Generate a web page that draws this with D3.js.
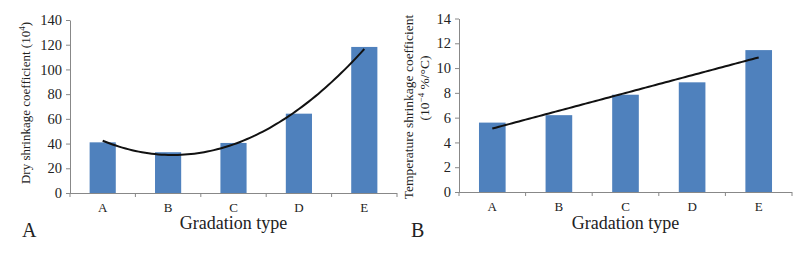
<!DOCTYPE html>
<html>
<head>
<meta charset="utf-8">
<script src="https://cdn.jsdelivr.net/npm/d3@7"></script>
<style>
  body { margin: 0; background: #fff; }
  svg text { font-family: "Liberation Serif", "Times New Roman", serif !important; fill: #222; }
</style>
</head>
<body>
<svg id="chart" width="807" height="257"></svg>
<script>
var categories = ["A", "B", "C", "D", "E"];
var dryValues = [41, 33, 40.5, 64.2, 118.2];
var tempValues = [5.6, 6.2, 7.85, 8.85, 11.45];
var dryTicks = [0, 20, 40, 60, 80, 100, 120, 140];
var tempTicks = [0, 2, 4, 6, 8, 10, 12, 14];

var barColor = "#4f81bd";
var svg = d3.select("#chart");

// least squares fit, degree 1 or 2, x = 1..n
function polyFit(values, degree) {
    var xs = values.map(function(d, i) { return i + 1; });
    var mx = d3.mean(xs), my = d3.mean(values);
    var p1 = xs.map(function(x) { return x - mx; });
    var v1 = d3.sum(p1, function(p) { return p * p; });
    var b1 = d3.sum(values, function(y, i) { return p1[i] * y; }) / v1;
    var m2 = d3.mean(p1, function(p) { return p * p; });
    var p2 = p1.map(function(p) { return p * p - m2; });
    var v2 = d3.sum(p2, function(p) { return p * p; });
    var b2 = degree > 1 ? d3.sum(values, function(y, i) { return p2[i] * y; }) / v2 : 0;
    return function(x) {
        var p = x - mx;
        return my + b1 * p + b2 * (p * p - m2);
    };
}

function panel(opt) {
    var g = svg.append("g");
    var x = d3.scaleBand().domain(categories).range([opt.x0, opt.x1]).paddingInner(0.6).paddingOuter(0.3);
    var y = d3.scaleLinear().domain([0, opt.ticks[opt.ticks.length - 1]]).range([opt.y0, opt.y1]);

    g.selectAll("rect").data(opt.values).enter().append("rect")
        .attr("x", function(d, i) { return x(categories[i]); })
        .attr("y", function(d) { return y(d); })
        .attr("width", x.bandwidth())
        .attr("height", function(d) { return y(0) - y(d); })
        .attr("fill", barColor);

    // y axis
    var yAxis = g.append("g").attr("transform", "translate(" + opt.x0 + ",0)")
        .call(d3.axisLeft(y).tickValues(opt.ticks).tickSize(4).tickPadding(4).tickSizeOuter(0));
    yAxis.attr("font-family", null);
    yAxis.select(".domain").attr("stroke", "#888");
    yAxis.selectAll(".tick line").attr("stroke", "#888");
    yAxis.selectAll("text").attr("font-size", 14.5).attr("fill", "#222");

    // x axis: line plus boundary ticks
    g.append("line").attr("x1", opt.x0).attr("x2", opt.x1)
        .attr("y1", opt.y0 + 0.5).attr("y2", opt.y0 + 0.5).attr("stroke", "#888");
    var bounds = d3.range(categories.length + 1).map(function(i) { return opt.x0 + i * (opt.x1 - opt.x0) / categories.length; });
    g.selectAll(".bt").data(bounds).enter().append("line")
        .attr("x1", function(d) { return d; }).attr("x2", function(d) { return d; })
        .attr("y1", opt.y0).attr("y2", opt.y0 + 4).attr("stroke", "#888");
    g.selectAll(".cl").data(categories).enter().append("text")
        .attr("x", function(d) { return x(d) + x.bandwidth() / 2; })
        .attr("y", opt.y0 + 19)
        .attr("text-anchor", "middle").attr("font-size", 13)
        .text(function(d) { return d; });

    // trend line
    var f = polyFit(opt.values, opt.degree);
    var cx = function(t) { return x(categories[0]) + x.bandwidth() / 2 + (t - 1) * x.step(); };
    var pts = d3.range(1, 5.001, 0.05);
    g.append("path").datum(pts)
        .attr("d", d3.line().x(function(t) { return cx(t); }).y(function(t) { return y(f(t)); }))
        .attr("fill", "none").attr("stroke", "#111").attr("stroke-width", 2);

    g.append("text").attr("x", (opt.x0 + opt.x1) / 2).attr("y", 229)
        .attr("text-anchor", "middle").attr("font-size", 18).text("Gradation type");
    g.append("text").attr("x", opt.letterX).attr("y", 237)
        .attr("font-size", 20).text(opt.letter);
    return g;
}

var gA = panel({ x0: 70, x1: 397, y0: 193, y1: 20, values: dryValues, ticks: dryTicks, degree: 2, letter: "A", letterX: 22 });
var tA = gA.append("text").attr("transform", "translate(30,103) rotate(-90)")
    .attr("text-anchor", "middle").attr("font-size", 13);
tA.append("tspan").text("Dry shrinkage coefficient (10");
tA.append("tspan").attr("font-size", 9).attr("dy", -5).text("4");
tA.append("tspan").attr("dy", 5).text(")");

var gB = panel({ x0: 459, x1: 792, y0: 192, y1: 18.5, values: tempValues, ticks: tempTicks, degree: 1, letter: "B", letterX: 411 });
gB.append("text").attr("transform", "translate(413,107) rotate(-90)")
    .attr("text-anchor", "middle").attr("font-size", 13.5).text("Temperature shrinkage coefficient");
var tB = gB.append("text").attr("transform", "translate(429,88) rotate(-90)")
    .attr("text-anchor", "middle").attr("font-size", 13.5);
tB.append("tspan").text("(10");
tB.append("tspan").attr("font-size", 9).attr("dy", -5).text("\u22124");
tB.append("tspan").attr("dy", 5).text(" %/\u00b0C)");
</script>
</body>
</html>
